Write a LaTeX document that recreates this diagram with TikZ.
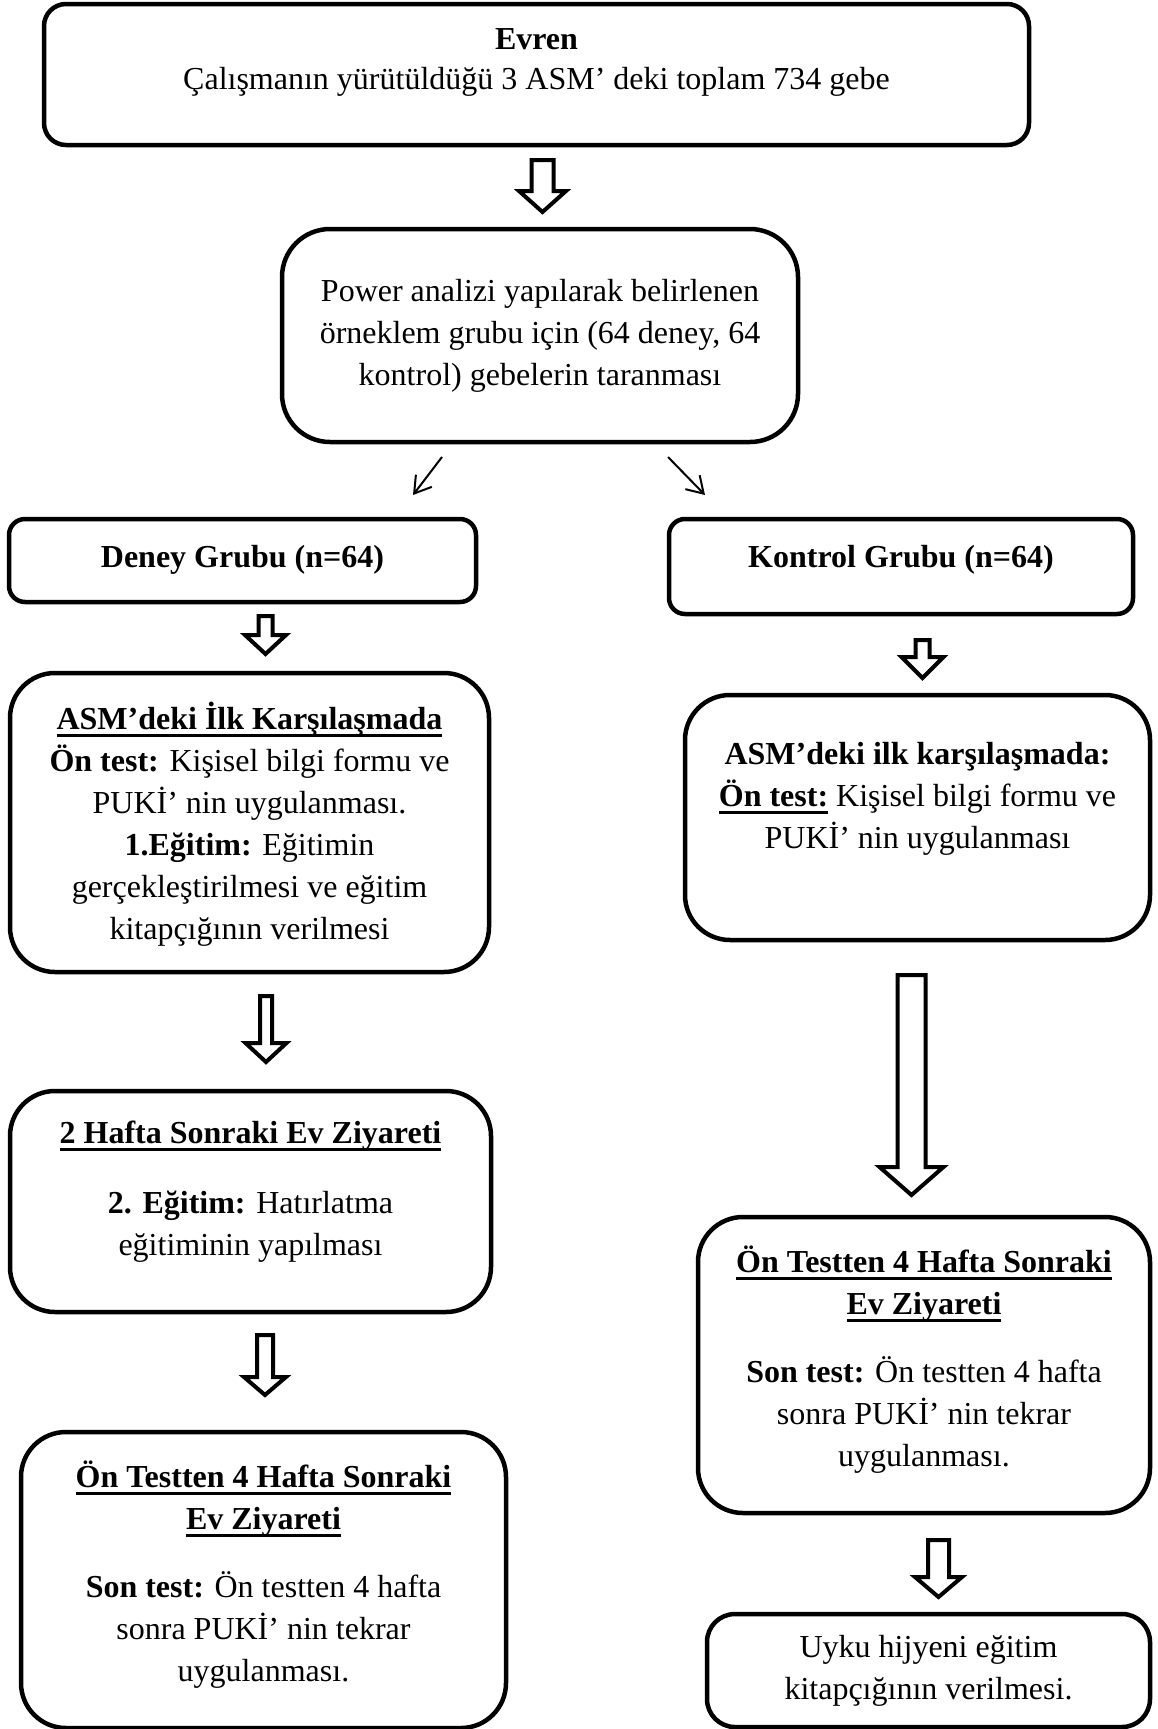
\documentclass[tikz,border=0pt]{standalone}
\usepackage{fontspec}
\setmainfont{Liberation Serif}
\usetikzlibrary{calc,arrows.meta}
\newcommand\myul[1]{\setbox0=\hbox{#1}\rlap{\rule[-8pt]{\wd0}{3pt}}\box0\relax}
\newcommand\barrow[5]{%
  \draw[blockarrow] let \p1=(#1), \p2=(#2) in
  (\x1-#3pt,\y1) -- (\x1+#3pt,\y1) -- (\x1+#3pt,\y2+#5pt) -- (\x1+#4pt,\y2+#5pt)
  -- (\x1,\y2) -- (\x1-#4pt,\y2+#5pt) -- (\x1-#3pt,\y2+#5pt) -- cycle;}
\tikzset{
  flowbox/.style={draw, line width=4.5pt, inner sep=0pt},
  txt/.style={align=center, inner sep=0pt, anchor=north, font=\fontsize{32}{42}\selectfont},
  blockarrow/.style={draw, line width=4pt, fill=white},
  thinarrow/.style={line width=2pt, -{Straight Barb[length=16pt,width=20pt,line width=2pt]}}
}
\begin{document}
\begin{tikzpicture}[x=1pt,y=-1pt]
\useasboundingbox (0,0) rectangle (1157,1729);
% boxes
\node[flowbox, rounded corners=22pt, minimum width=985pt, minimum height=141pt] (evren) at (536.5,74.5) {};
\node[flowbox, rounded corners=48pt, minimum width=516pt, minimum height=213pt] (power) at (540,335.5) {};
\node[flowbox, rounded corners=16pt, minimum width=467pt, minimum height=83pt] (deney) at (242.5,560.5) {};
\node[flowbox, rounded corners=16pt, minimum width=464pt, minimum height=95pt] (kontrol) at (901,566.5) {};
\node[flowbox, rounded corners=45pt, minimum width=479pt, minimum height=299pt] (asmL) at (249.5,822.5) {};
\node[flowbox, rounded corners=45pt, minimum width=465pt, minimum height=245pt] (asmR) at (917.5,817.5) {};
\node[flowbox, rounded corners=45pt, minimum width=481pt, minimum height=221pt] (haftaL) at (250.5,1201.5) {};
\node[flowbox, rounded corners=45pt, minimum width=485pt, minimum height=296pt] (sonL) at (263.5,1580) {};
\node[flowbox, rounded corners=45pt, minimum width=452pt, minimum height=296pt] (sonR) at (924,1365) {};
\node[flowbox, rounded corners=28pt, minimum width=443pt, minimum height=113pt] (uyku) at (928.5,1670.5) {};
% texts
\node[txt] (evrenT) at (536.5,19.6) {\strut\textbf{Evren}\\[-2pt]Çalışmanın yürütüldüğü 3 ASM’ deki toplam 734 gebe};
\node[txt] (powerT) at (540,271.6) {\strut Power analizi yapılarak belirlenen\\örneklem grubu için (64 deney, 64\\kontrol) gebelerin taranması};
\node[txt] (deneyT) at (242.5,537.6) {\strut\textbf{Deney Grubu (n=64)}};
\node[txt] (kontrolT) at (901,537.6) {\strut\textbf{Kontrol Grubu (n=64)}};
\node[txt] (asmLT) at (249.5,699.6) {\strut\myul{\textbf{ASM’deki İlk Karşılaşmada}}\\\textbf{Ön test:} Kişisel bilgi formu ve\\PUKİ’ nin uygulanması.\\\textbf{1.Eğitim:} Eğitimin\\gerçekleştirilmesi ve eğitim\\kitapçığının verilmesi};
\node[txt] (asmRT) at (917.5,734.6) {\strut\textbf{ASM’deki ilk karşılaşmada:}\\\myul{\textbf{Ön test:}} Kişisel bilgi formu ve\\PUKİ’ nin uygulanması};
\node[txt] (haftaLT) at (250.5,1113.6) {\strut\myul{\textbf{2 Hafta Sonraki Ev Ziyareti}}\\[28pt]\textbf{2. Eğitim:} Hatırlatma\\eğitiminin yapılması};
\node[txt] (sonLT) at (263.5,1457.6) {\strut\myul{\textbf{Ön Testten 4 Hafta Sonraki}}\\\myul{\textbf{Ev Ziyareti}}\\[26pt]\textbf{Son test:} Ön testten 4 hafta\\sonra PUKİ’ nin tekrar\\uygulanması.};
\node[txt] (sonRT) at (924,1242.6) {\strut\myul{\textbf{Ön Testten 4 Hafta Sonraki}}\\\myul{\textbf{Ev Ziyareti}}\\[26pt]\textbf{Son test:} Ön testten 4 hafta\\sonra PUKİ’ nin tekrar\\uygulanması.};
\node[txt] (uykuT) at (928.5,1627.6) {\strut Uyku hijyeni eğitim\\kitapçığının verilmesi.};
% block arrow end points
\coordinate (a1s) at (542.5,160); \coordinate (a1e) at (542.5,212);
\coordinate (a2s) at (265.5,616); \coordinate (a2e) at (265.5,654);
\coordinate (a3s) at (922.5,640); \coordinate (a3e) at (922.5,678);
\coordinate (a4s) at (266,996);   \coordinate (a4e) at (266,1062);
\coordinate (a5s) at (265,1335);  \coordinate (a5e) at (265,1395);
\coordinate (a6s) at (911.5,975); \coordinate (a6e) at (911.5,1195);
\coordinate (a7s) at (938.5,1540); \coordinate (a7e) at (938.5,1597);
\barrow{a1s}{a1e}{11}{23.5}{21}
\barrow{a2s}{a2e}{7}{20.5}{19}
\barrow{a3s}{a3e}{7}{21}{21}
\barrow{a4s}{a4e}{6}{20.5}{19}
\barrow{a5s}{a5e}{8}{21}{18}
\barrow{a6s}{a6e}{14}{32}{28}
\barrow{a7s}{a7e}{10.5}{23.5}{20}
% thin diagonal arrows
\coordinate (d1s) at (442,457); \coordinate (d1e) at (413,495);
\coordinate (d2s) at (668,457); \coordinate (d2e) at (705,495);
\draw[thinarrow] (d1s) -- (d1e);
\draw[thinarrow] (d2s) -- (d2e);
\end{tikzpicture}
\end{document}
